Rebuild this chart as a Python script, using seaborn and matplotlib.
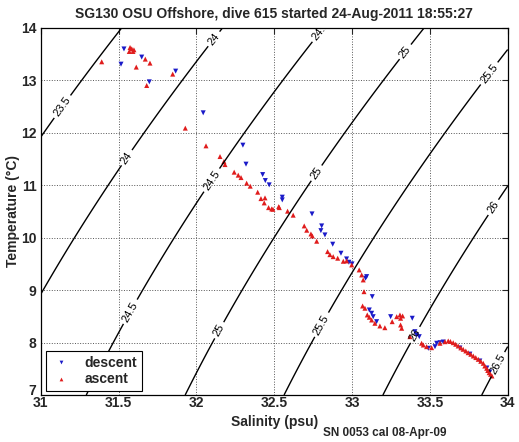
import numpy as np
import pandas as pd
import matplotlib
matplotlib.use('Agg')
import matplotlib.pyplot as plt
import matplotlib.transforms as mtransforms
import seaborn as sns

TITLE = 'SG130 OSU Offshore, dive 615 started 24-Aug-2011 18:55:27'
FOOTNOTE = 'SN 0053 cal 08-Apr-09'

# descent profile (salinity, temperature)
descent_S = [31.535, 31.516, 31.649, 31.698, 31.867, 32.044, 32.299, 32.319, 32.426, 32.443,
             32.468, 32.552, 32.552, 32.743, 32.805, 32.800, 32.826, 32.876, 32.929, 32.965,
             32.980, 33.000, 33.087, 33.094, 33.130, 33.111, 33.126, 33.136, 33.158, 33.248,
             33.387, 33.404, 33.415, 33.432, 33.490, 33.533, 33.544, 33.565, 33.586, 33.693,
             33.757, 33.821, 33.866, 33.885]
descent_T = [13.600, 13.310, 13.445, 12.973, 13.177, 12.382, 11.765, 11.403, 11.204, 11.090,
             11.008, 10.773, 10.721, 10.454, 10.225, 10.135, 10.053, 9.876, 9.704, 9.595,
             9.532, 9.500, 9.227, 9.258, 8.876, 8.622, 8.559, 8.494, 8.399, 8.494,
             8.464, 8.208, 8.145, 8.113, 7.891, 7.922, 7.987, 7.998, 8.011, 7.897,
             7.780, 7.649, 7.515, 7.439]

# ascent profile (salinity, temperature)
ascent_S = [31.392, 31.574, 31.585, 31.599, 31.569, 31.593, 31.614, 31.672, 31.702, 31.681,
            31.848, 31.929, 32.062, 32.152, 32.177, 32.184, 32.243, 32.269, 32.287, 32.323,
            32.346, 32.394, 32.415, 32.441, 32.436, 32.464, 32.484, 32.492, 32.529, 32.533,
            32.586, 32.622, 32.693, 32.709, 32.736, 32.745, 32.773, 32.843, 32.858, 32.879,
            32.908, 32.944, 32.965, 32.998, 33.046, 33.062, 33.072, 33.077, 33.068, 33.083,
            33.098, 33.111, 33.126, 33.147, 33.179, 33.211, 33.287, 33.308, 33.325, 33.312,
            33.258, 33.312, 33.319, 33.372, 33.447, 33.458, 33.479, 33.511, 33.565, 33.597,
            33.618, 33.632, 33.650, 33.666, 33.682, 33.699, 33.714, 33.731, 33.746, 33.763,
            33.779, 33.795, 33.811, 33.827, 33.843, 33.853, 33.865, 33.872, 33.881, 33.890,
            33.899]
ascent_T = [13.355, 13.628, 13.603, 13.584, 13.552, 13.552, 13.254, 13.406, 13.330, 12.903,
            13.120, 12.090, 11.752, 11.548, 11.452, 11.395, 11.250, 11.193, 11.147, 11.040,
            10.983, 10.868, 10.746, 10.760, 10.664, 10.574, 10.549, 10.543, 10.593, 10.574,
            10.506, 10.430, 10.225, 10.143, 10.072, 10.034, 9.933, 9.735, 9.677, 9.639,
            9.609, 9.551, 9.557, 9.481, 9.386, 9.290, 9.195, 8.971, 8.698, 8.655,
            8.527, 8.483, 8.431, 8.368, 8.317, 8.284, 8.494, 8.527, 8.508, 8.464,
            8.399, 8.336, 8.273, 8.113, 7.987, 7.954, 7.922, 7.903, 7.987, 8.017,
            8.031, 8.021, 7.998, 7.968, 7.935, 7.900, 7.872, 7.840, 7.807, 7.777,
            7.744, 7.714, 7.681, 7.643, 7.605, 7.553, 7.510, 7.468, 7.426, 7.395,
            7.363]

sigma_levels = [23.5, 24, 24.5, 25, 25.5, 26, 26.5]
# where the contour labels sit (salinity, temperature)
label_spots = [(31.139, 12.50), (32.109, 13.80), (31.541, 11.55), (32.85, 13.83),
               (32.098, 11.10), (31.557, 8.62), (33.34, 13.55), (32.768, 11.24),
               (32.107, 8.30), (33.865, 13.17), (32.805, 8.34), (33.918, 10.56),
               (33.404, 8.15), (33.929, 7.60)]


def sigma_t(S, T):
    # UNESCO 1980 equation of state at surface pressure
    rho_w = (999.842594 + 6.793952e-2 * T - 9.095290e-3 * T**2 + 1.001685e-4 * T**3
             - 1.120083e-6 * T**4 + 6.536332e-9 * T**5)
    A = 8.24493e-1 - 4.0899e-3 * T + 7.6438e-5 * T**2 - 8.2467e-7 * T**3 + 5.3875e-9 * T**4
    B = -5.72466e-3 + 1.0227e-4 * T - 1.6546e-6 * T**2
    C = 4.8314e-4
    return rho_w + A * S + B * S**1.5 + C * S**2 - 1000.0


df = pd.concat([
    pd.DataFrame({'S': descent_S, 'T': descent_T, 'cast': 'descent'}),
    pd.DataFrame({'S': ascent_S, 'T': ascent_T, 'cast': 'ascent'}),
], ignore_index=True)

sns.set_style('white')
plt.rcParams['font.family'] = ['Liberation Sans', 'DejaVu Sans']
plt.rcParams['font.weight'] = 'bold'
plt.rcParams['axes.labelweight'] = 'bold'

fig = plt.figure(figsize=(5.19, 4.42), dpi=100)
ax = fig.add_axes([0.0784, 0.1063, 0.8998, 0.8304])

sg, tg = np.meshgrid(np.linspace(31, 34, 200), np.linspace(7, 14, 200))
cs = ax.contour(sg, tg, sigma_t(sg, tg), levels=sigma_levels, colors='black', linewidths=1.0)
lbls = ax.clabel(cs, inline=True, fmt='%g', fontsize=8, manual=label_spots, inline_spacing=3)
for t in lbls:
    t.set_fontweight('normal')

sns.scatterplot(data=df, x='S', y='T', hue='cast', style='cast',
                markers={'descent': 'v', 'ascent': '^'},
                palette={'descent': '#1a1ac8', 'ascent': '#e01c1c'},
                s=13, linewidth=0, ax=ax)

ax.set_xlim(31, 34)
ax.set_ylim(7, 14)
ax.set_xticks([31, 31.5, 32, 32.5, 33, 33.5, 34])
ax.set_xticklabels(['31', '31.5', '32', '32.5', '33', '33.5', '34'])
ax.set_yticks(range(7, 15))
ax.grid(True, linestyle=':', color='#555555', linewidth=0.7)
ax.tick_params(direction='in', length=4, top=True, right=True, labelsize=10)
ax.tick_params(axis='x', pad=1)
ax.tick_params(axis='y', pad=3)
for lab in ax.get_xticklabels() + ax.get_yticklabels():
    lab.set_fontweight('bold')
for sp in ax.spines.values():
    sp.set_color('black')
    sp.set_linewidth(0.9)

# lift the lowest temperature label a little so it clears "31"
seven = ax.yaxis.get_major_ticks()[0].label1
seven.set_transform(seven.get_transform()
                    + mtransforms.ScaledTranslation(0, 4 / 72, fig.dpi_scale_trans))

ax.set_xlabel('Salinity (psu)', fontsize=10, fontweight='bold', labelpad=3)
ax.set_ylabel('Temperature (°C)', fontsize=10, fontweight='bold', labelpad=1)
ax.set_title(TITLE, fontsize=10, fontweight='bold', pad=7)

handles, labels = ax.get_legend_handles_labels()
leg = ax.legend(handles, labels, loc='lower left', bbox_to_anchor=(0.011, 0.012),
                borderaxespad=0, fancybox=False, framealpha=1, edgecolor='black',
                prop={'size': 10, 'weight': 'bold'}, handletextpad=0.9, handlelength=1.6,
                borderpad=0.3, labelspacing=0.2, markerscale=0.75)
leg.get_frame().set_linewidth(0.8)

fig.text(0.622, 0.02, FOOTNOTE, fontsize=8.5, fontweight='bold', va='center')

fig.savefig('out.png', dpi=100)
